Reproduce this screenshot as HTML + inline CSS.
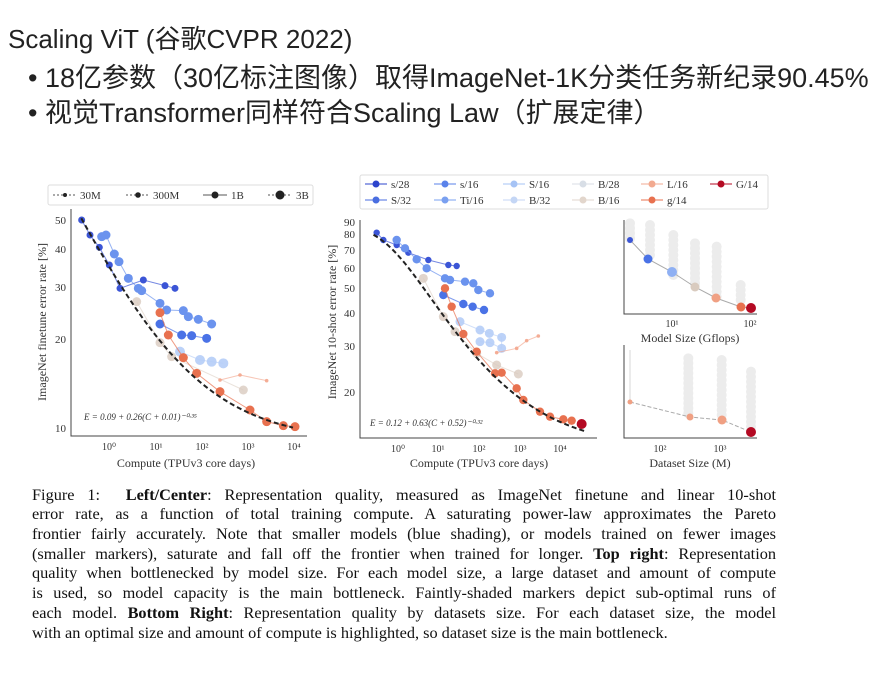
<!DOCTYPE html>
<html><head><meta charset="utf-8">
<style>
body{margin:0;width:888px;height:690px;background:#fff;position:relative;overflow:hidden;font-family:"Liberation Sans","Noto Sans CJK SC",sans-serif;}
.t{position:absolute;color:#222;white-space:nowrap;}
.cap{position:absolute;left:32px;width:744px;font-family:"Liberation Serif",serif;font-size:16.3px;color:#111;text-align:justify;text-align-last:justify;white-space:nowrap;line-height:18px;}
.cap.l{text-align-last:left;}
svg text{font-family:"Liberation Serif",serif;fill:#333;}
</style></head><body>
<div class="t" style="left:8px;top:19px;font-size:26px;">Scaling ViT (谷歌CVPR 2022)</div>
<div class="t" style="left:28px;top:56px;font-size:27px;">• 18亿参数（30亿标注图像）取得ImageNet-1K分类任务新纪录90.45%</div>
<div class="t" style="left:28px;top:91px;font-size:27px;">• 视觉Transformer同样符合Scaling Law（扩展定律）</div>

<svg id="fig" width="888" height="690" style="position:absolute;left:0;top:0">
<g id="g"></g>
<rect x="48" y="185" width="265" height="20" fill="#fff" stroke="#ddd" rx="2"/>
<g font-size="11">
<line x1="53" y1="195" x2="76" y2="195" stroke="#555" stroke-dasharray="2,2"/><circle cx="65" cy="195" r="2" fill="#222"/><text x="80" y="199">30M</text>
<line x1="126" y1="195" x2="150" y2="195" stroke="#555" stroke-dasharray="2,2"/><circle cx="138" cy="195" r="2.8" fill="#222"/><text x="153" y="199">300M</text>
<line x1="203" y1="195" x2="227" y2="195" stroke="#555"/><circle cx="215" cy="195" r="3.5" fill="#222"/><text x="231" y="199">1B</text>
<line x1="268" y1="195" x2="292" y2="195" stroke="#555" stroke-dasharray="2,2"/><circle cx="280" cy="195" r="4.5" fill="#222"/><text x="296" y="199">3B</text>
</g>
<rect x="360" y="175" width="408" height="34" fill="#fff" stroke="#ddd" rx="2"/>
<g font-size="11" id="leg"></g>
<g stroke="#444" stroke-width="1" fill="none">
<path d="M71,209 V436 H307"/>
<path d="M360,220 V438 H597"/>
<path d="M624,220 V314 H757"/>
<path d="M624,345 V438 H757"/>
</g>
<g font-size="11" text-anchor="end">
<text x="66" y="224">50</text><text x="66" y="253">40</text><text x="66" y="291">30</text><text x="66" y="343">20</text><text x="66" y="432">10</text>
<text x="355" y="226">90</text><text x="355" y="238">80</text><text x="355" y="254">70</text><text x="355" y="272">60</text><text x="355" y="292">50</text><text x="355" y="317">40</text><text x="355" y="350">30</text><text x="355" y="396">20</text>
</g>
<g font-size="10" text-anchor="middle">
<text x="109" y="450">10⁰</text><text x="156" y="450">10¹</text><text x="202" y="450">10²</text><text x="248" y="450">10³</text><text x="294" y="450">10⁴</text>
<text x="398" y="452">10⁰</text><text x="438" y="452">10¹</text><text x="479" y="452">10²</text><text x="520" y="452">10³</text><text x="560" y="452">10⁴</text>
<text x="672" y="327">10¹</text><text x="750" y="327">10²</text>
<text x="660" y="452">10²</text><text x="720" y="452">10³</text>
</g>
<g font-size="12" text-anchor="middle">
<text x="186" y="467">Compute (TPUv3 core days)</text>
<text x="479" y="467">Compute (TPUv3 core days)</text>
<text x="690" y="342">Model Size (Gflops)</text>
<text x="690" y="467">Dataset Size (M)</text>
<text transform="translate(46,322) rotate(-90)">ImageNet finetune error rate [%]</text>
<text transform="translate(336,322) rotate(-90)">ImageNet 10-shot error rate [%]</text>
</g>
<text x="84" y="420" font-size="9" font-style="italic">E = 0.09 + 0.26(C + 0.01)⁻⁰·³⁵</text>
<text x="370" y="426" font-size="9" font-style="italic">E = 0.12 + 0.63(C + 0.52)⁻⁰·³²</text>
</svg>

<div class="cap" style="top:486px">Figure 1: &nbsp;<b>Left/Center</b>: Representation quality, measured as ImageNet finetune and linear 10-shot</div>
<div class="cap" style="top:505px">error rate, as a function of total training compute. A saturating power-law approximates the Pareto</div>
<div class="cap" style="top:525px">frontier fairly accurately. Note that smaller models (blue shading), or models trained on fewer images</div>
<div class="cap" style="top:545px">(smaller markers), saturate and fall off the frontier when trained for longer. <b>Top right</b>: Representation</div>
<div class="cap" style="top:564px">quality when bottlenecked by model size. For each model size, a large dataset and amount of compute</div>
<div class="cap" style="top:584px">is used, so model capacity is the main bottleneck. Faintly-shaded markers depict sub-optimal runs of</div>
<div class="cap" style="top:604px">each model. <b>Bottom Right</b>: Representation quality by datasets size. For each dataset size, the model</div>
<div class="cap l" style="top:624px">with an optimal size and amount of compute is highlighted, so dataset size is the main bottleneck.</div>

<script>
var NS="http://www.w3.org/2000/svg",g=document.getElementById('g');
function el(t,a,p){var e=document.createElementNS(NS,t);for(var k in a)e.setAttribute(k,a[k]);(p||g).appendChild(e);return e;}
function ser(pts,ox,oy,col,r,op){var d="";pts.forEach(function(p,i){d+=(i?"L":"M")+(ox+p[0]/3)+","+(oy+p[1]/3);});
 el('path',{d:d,stroke:col,fill:'none','stroke-width':1,opacity:op*0.7});
 pts.forEach(function(p){el('circle',{cx:ox+p[0]/3,cy:oy+p[1]/3,r:r,fill:col,opacity:op});});}
[[930,160,215],[990,165,260],[1060,195,320],[1125,220,350],[1190,230,385],[1262,345,400]].forEach(function(c){
 for(var y=c[1];y<=c[2];y+=15)el('circle',{cx:320+c[0]/3,cy:170+y/3,r:5,fill:'#ececec'});});
[[930,540,690],[1105,565,735],[1205,570,745],[1293,605,780]].forEach(function(c){
 if(c[0]==930){el('line',{x1:630,x2:630,y1:170+c[1]/3,y2:170+c[2]/3,stroke:'#e4e4e4','stroke-width':1.5});return;}
 for(var y=c[1];y<=c[2];y+=15)el('circle',{cx:320+c[0]/3,cy:170+y/3,r:5,fill:'#ececec'});});
var d="";for(var i=0;i<=80;i++){var lc=Math.log10(0.25)+i*(4-Math.log10(0.25))/80,C=Math.pow(10,lc),E=(0.09+0.26*Math.pow(C+0.01,-0.35))*100;
 d+=(i?"L":"M")+(109+46*lc)+","+(428-297.6*Math.log10(E/10));}
var d2="";for(var i=0;i<=80;i++){var lc=Math.log10(0.25)+i*(4.6-Math.log10(0.25))/80,C=Math.pow(10,lc),E=(0.12+0.63*Math.pow(C+0.52,-0.32))*100;
 d2+=(i?"L":"M")+(398+40.7*lc)+","+(392-260*Math.log10(E/20));}
var L=[[20,170],[320,170]];
function S(i,pts,col,r,op){ser(pts,L[i][0],L[i][1],col,r,op==null?1:op);}
S(0,[[350,395],[420,518],[455,560],[670,660]],'#d9cbbf',4.5,.8);
S(0,[[480,545],[540,570],[575,575],[610,580]],'#b5cdf7',5,.9);
S(0,[[600,630],[660,615],[740,632]],'#f3a58c',1.8,.9);
S(0,[[185,150],[210,195],[238,232],[268,285],[300,355],[370,330],[435,347],[465,355]],'#3b55d6',3.5);
S(0,[[245,200],[258,195],[283,252],[297,275],[325,325],[355,355],[365,362],[420,400],[440,420],[490,422],[505,440],[535,448],[575,462]],'#6b93ee',4.5);
S(0,[[420,462],[485,495],[515,497],[560,505]],'#4a72e6',4.5);
S(0,[[420,428],[445,495],[490,563],[530,610],[600,665],[690,720],[740,755],[790,767],[825,770]],'#e8714f',4.5);
S(1,[[310,325],[370,440],[405,485],[470,550],[530,585],[595,612]],'#d9cbbf',4.5,.8);
S(1,[[420,455],[480,480],[508,490],[545,502],[545,535],[510,518],[480,515]],'#b5cdf7',4.5,.9);
S(1,[[530,548],[590,535],[620,512],[655,498]],'#f3a58c',1.8,.9);
S(1,[[170,188],[190,210],[230,225],[265,248],[325,270],[385,285],[410,288]],'#3b55d6',3.2);
S(1,[[230,210],[255,235],[290,268],[320,295],[375,325],[390,330],[435,335],[460,340],[475,360],[510,370]],'#6b93ee',4.2);
S(1,[[370,375],[430,402],[458,410],[492,420]],'#4a72e6',4.2);
S(1,[[375,355],[395,410],[430,492],[470,545],[525,610],[545,608],[590,655],[610,690],[660,725],[690,740],[730,748],[755,752]],'#e8714f',4.2);
el('circle',{cx:320+785/3,cy:170+762/3,r:5,fill:'#b40a23'});
el('path',{d:"M630,240L648,259L672,272L695,287L716,298L741,307L751,308",stroke:'#aaa',fill:'none'});
[[630,240,'#3b55d6',3],[648,259,'#4a72e6',4.5],[672,272,'#8fb0f3',5],[695,287,'#d9cbbf',4.5],[716,298,'#f0a083',4.5],[741,307,'#e8714f',4.5],[751,308,'#b40a23',5]].forEach(function(p){el('circle',{cx:p[0],cy:p[1],r:p[3],fill:p[2]});});
el('path',{d:"M630,402L690,417L722,420L751,432",stroke:'#aaa',fill:'none','stroke-dasharray':'4,2'});
[[630,402,'#f0a083',2.5],[690,417,'#f0a083',3.5],[722,420,'#f0a083',4.5],[751,432,'#b40a23',5]].forEach(function(p){el('circle',{cx:p[0],cy:p[1],r:p[3],fill:p[2]});});
el('path',{d:d,stroke:'#222',fill:'none','stroke-width':2,'stroke-dasharray':'5,3'});
el('path',{d:d2,stroke:'#222',fill:'none','stroke-width':2,'stroke-dasharray':'5,3'});
var lg=document.getElementById('leg');
[['s/28','#2c44cc',0,0],['S/32','#4a6ee0',0,1],['s/16','#5a82ea',1,0],['Ti/16','#7aa0f0',1,1],['S/16','#a6c3f5',2,0],['B/32','#c4d6f5',2,1],['B/28','#d8dee6',3,0],['B/16','#e2d6cc',3,1],['L/16','#f2aa90',4,0],['g/14','#e8714f',4,1],['G/14','#b40a23',5,0]].forEach(function(a){
 var x=365+a[2]*69,y=184+a[3]*16;
 el('line',{x1:x,x2:x+22,y1:y,y2:y,stroke:a[1]},lg);el('circle',{cx:x+11,cy:y,r:3.5,fill:a[1]},lg);
 var t=el('text',{x:x+26,y:y+4},lg);t.textContent=a[0];});
</script>
</body></html>
